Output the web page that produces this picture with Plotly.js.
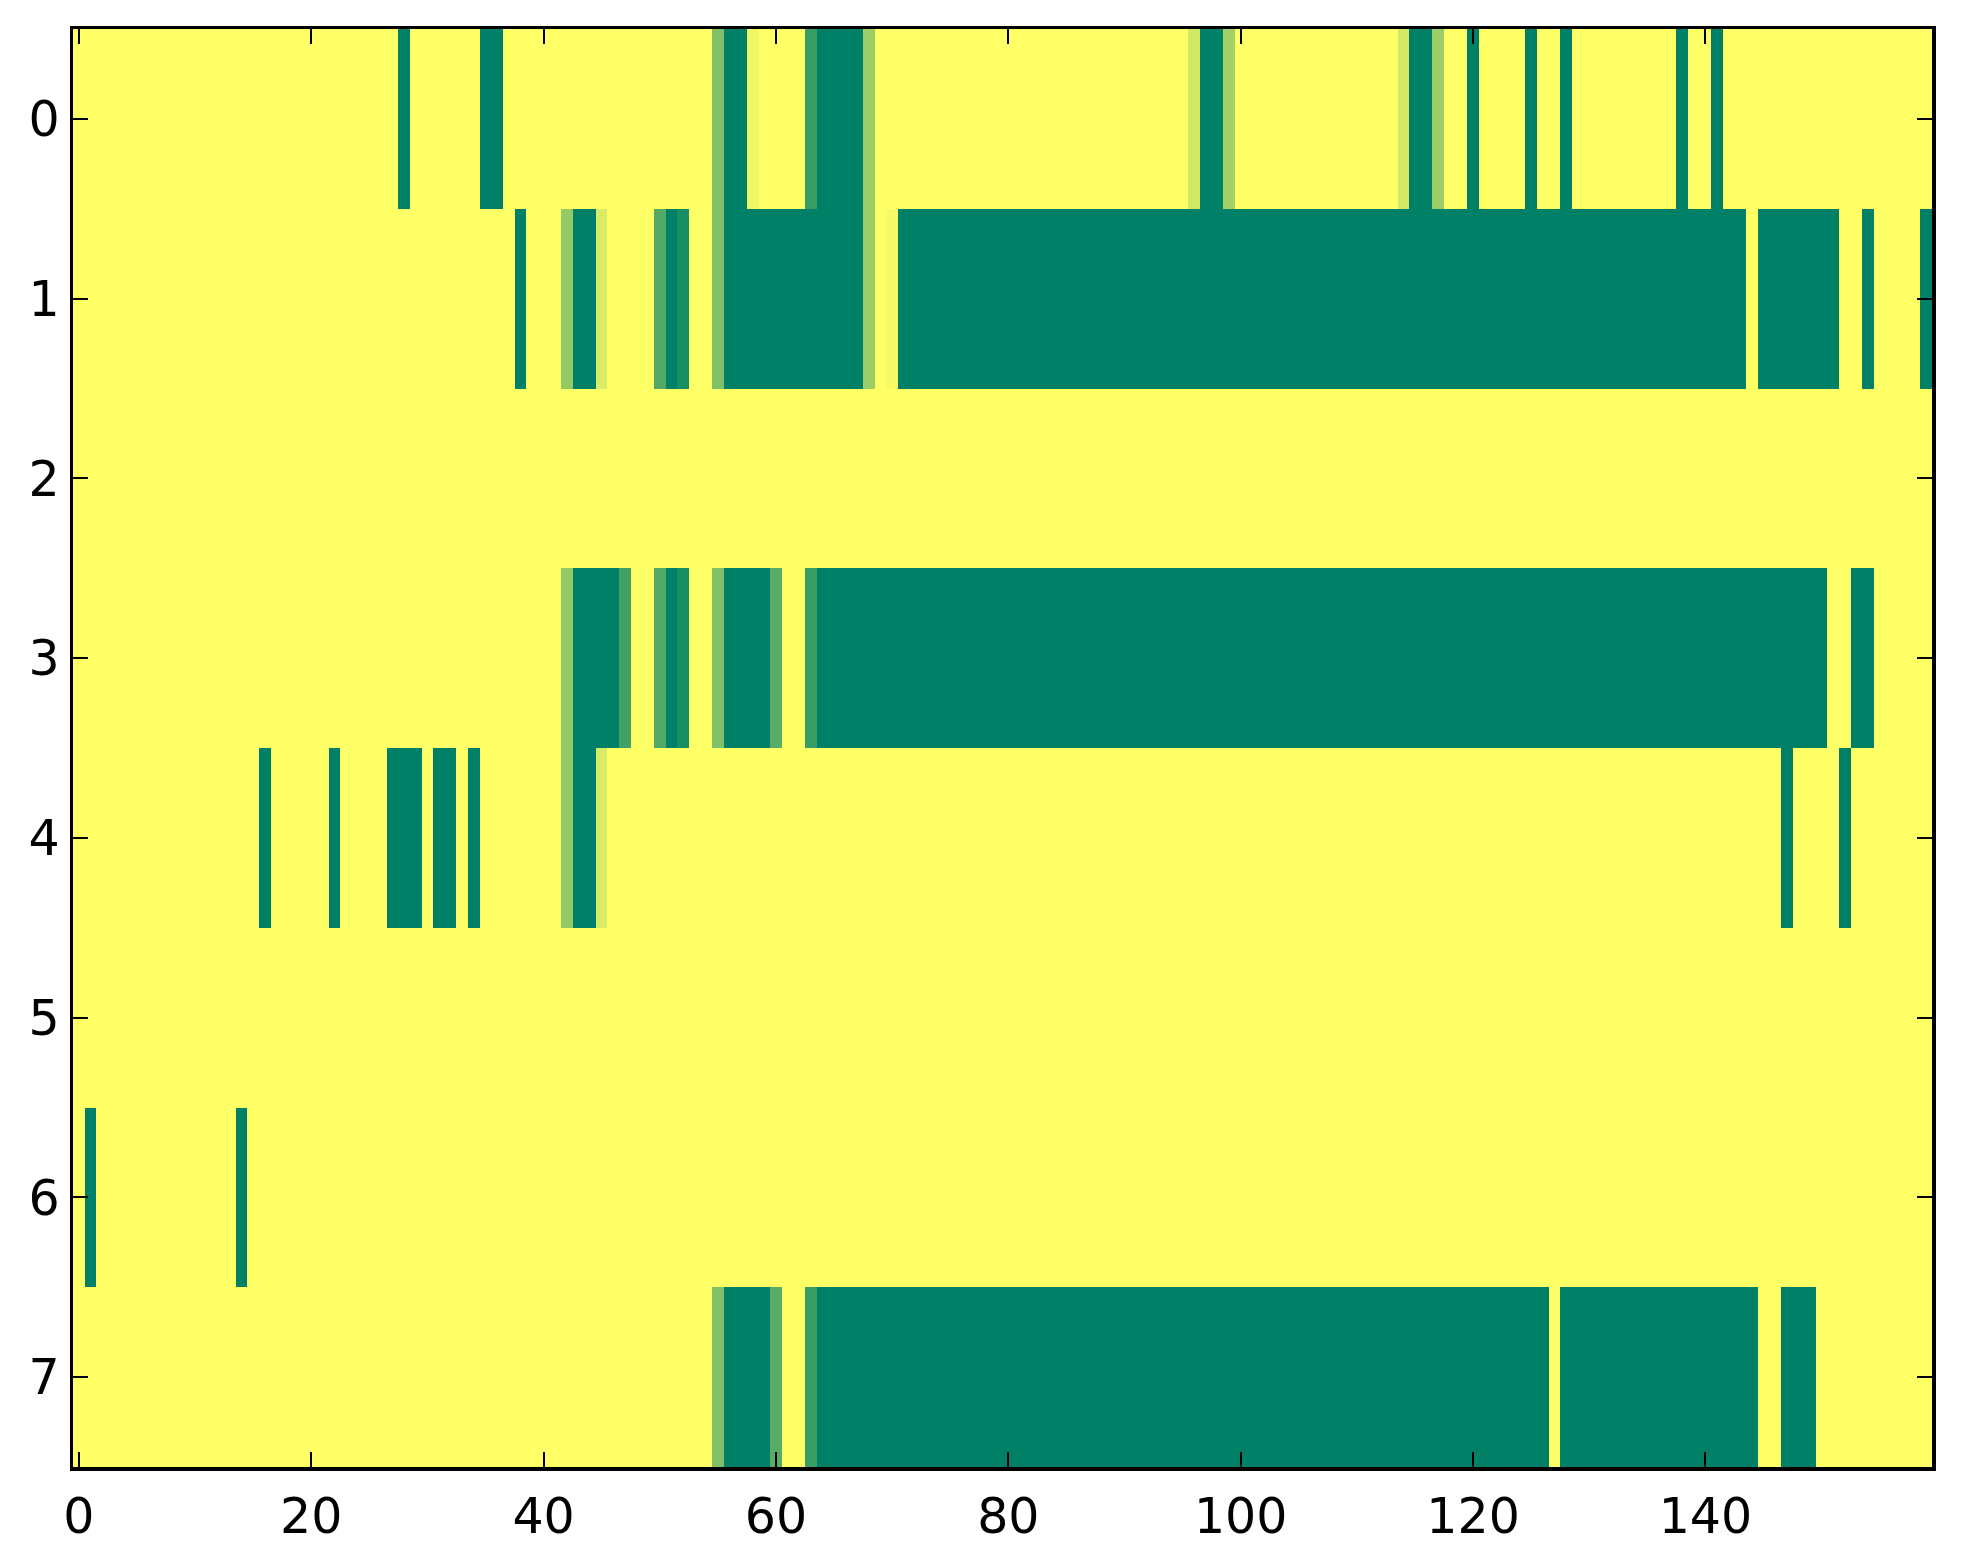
<!DOCTYPE html>
<html>
<head>
<meta charset="utf-8">
<script src="https://cdn.plot.ly/plotly-3.0.1.min.js"></script>
<style>html,body{margin:0;padding:0;background:#fff;}#chart{width:1963px;height:1564px;}</style>
</head>
<body>
<div id="chart"></div>
<script>
// Number of columns and rows
var nCols = 160;
var rowLabels = [0, 1, 2, 3, 4, 5, 6, 7];
var xTicks = [0, 20, 40, 60, 80, 100, 120, 140];

// Non-zero cells per row as [firstColumn, lastColumn, value]
var row0 = [[28,28,1],[35,36,1],[55,55,0.5],[56,57,1],[58,58,0.06],[63,63,0.77],[64,67,1],[68,68,0.39],
            [96,96,0.18],[97,98,1],[99,99,0.36],[114,114,0.17],[115,116,1],[117,117,0.39],
            [120,120,1],[125,125,1],[128,128,1],[138,138,1],[141,141,1]];
var row1 = [[38,38,1],[42,42,0.42],[43,44,1],[45,45,0.15],[50,50,0.68],[51,51,1],[52,52,0.9],
            [55,55,0.5],[56,67,1],[68,68,0.39],[70,70,0.04],[71,143,1],[145,151,1],[154,154,1],[159,159,1]];
var row2 = [];
var row3 = [[42,42,0.42],[43,46,1],[47,47,0.74],[50,50,0.68],[51,51,1],[52,52,0.9],[55,55,0.5],
            [56,59,1],[60,60,0.65],[63,63,0.77],[64,150,1],[153,154,1]];
var row4 = [[16,16,1],[22,22,1],[27,29,1],[31,32,1],[34,34,1],[42,42,0.42],[43,44,1],[45,45,0.15],
            [147,147,1],[152,152,1]];
var row5 = [];
var row6 = [[1,1,1],[14,14,1]];
var row7 = [[55,55,0.5],[56,59,1],[60,60,0.65],[63,63,0.77],[64,126,1],[128,144,1],[147,149,1]];

var rows = [row0, row1, row2, row3, row4, row5, row6, row7];
var xs = [];
for (var i = 0; i < nCols; i++) xs.push(i);
var z = rows.map(function (runs) {
  var r = new Array(nCols).fill(0);
  runs.forEach(function (run) { for (var c = run[0]; c <= run[1]; c++) r[c] = run[2]; });
  return r;
});

var trace = {
  type: 'heatmap',
  x: xs,
  y: rowLabels,
  z: z,
  zmin: 0, zmax: 1,
  colorscale: [[0, '#ffff66'], [1, '#008066']],
  showscale: false,
  hoverinfo: 'none'
};

var axisCommon = {
  showgrid: false, zeroline: false,
  showline: true, linecolor: '#000', linewidth: 3.5, mirror: 'allticks',
  ticks: 'inside', ticklen: 15, tickwidth: 2, tickcolor: '#000',
  tickfont: {family: 'DejaVu Sans', size: 49, color: '#000'}
};

var layout = {
  width: 1963, height: 1564,
  margin: {l: 73, r: 31, t: 29, b: 97, pad: 0},
  paper_bgcolor: '#fff', plot_bgcolor: '#fff',
  xaxis: Object.assign({}, axisCommon, {range: [-0.5, 159.5], tickmode: 'array', tickvals: xTicks, ticktext: xTicks.map(String), ticklabelstandoff: 4}),
  yaxis: Object.assign({}, axisCommon, {range: [7.5, -0.5], tickmode: 'array', tickvals: rowLabels, ticktext: rowLabels.map(String), ticklabelstandoff: 0})
};

Plotly.newPlot('chart', [trace], layout, {displayModeBar: false, staticPlot: true});
</script>
</body>
</html>
